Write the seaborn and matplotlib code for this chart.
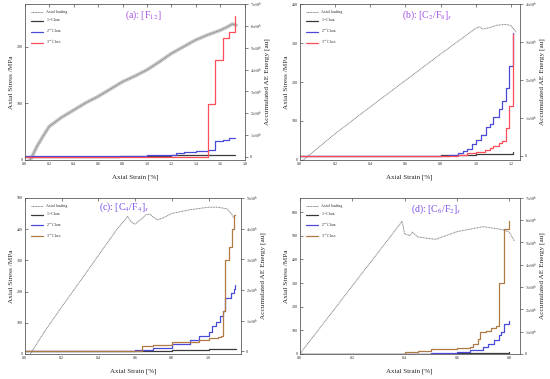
import numpy as np
import pandas as pd
import seaborn as sns
import matplotlib.pyplot as plt
from matplotlib.ticker import FuncFormatter

# ---- (a) [F12]
a_sx = [0.03, 0.05, 0.08, 0.1, 0.15, 0.2, 0.3, 0.4, 0.5, 0.6, 0.7, 0.8, 0.9, 1.0, 1.1, 1.2, 1.3, 1.4, 1.5, 1.6, 1.65, 1.7, 1.73]
a_sy = [-3, 2, 15, 24, 42, 59, 75, 88, 101, 112, 125, 138, 148, 159, 173, 188, 200, 212, 221, 229, 234, 240, 238]
a_c1x = [0.0, 0.78, 1.0, 1.2, 1.5, 1.72]
a_c1y = [0.0, 0.04e6, 0.05e6, 0.06e6, 0.07e6, 0.08e6]
a_c2x = [0.0, 0.78, 1.0, 1.24, 1.3, 1.4, 1.5, 1.56, 1.62, 1.67, 1.72]
a_c2y = [0.05e6, 0.05e6, 0.08e6, 0.15e6, 0.2e6, 0.25e6, 0.3e6, 0.7e6, 0.78e6, 0.85e6, 0.85e6]
a_c3x = [0.0, 1.5, 1.56, 1.62, 1.67, 1.72, 1.72]
a_c3y = [0.0, 2.4e6, 4.46e6, 5.47e6, 5.73e6, 6.45e6, 6.45e6]

# ---- (b) [C2/F8]s
b_sx = [0.0, 0.02, 0.2, 0.4, 0.6, 0.8, 0.9, 1.0, 1.02, 1.04, 1.08, 1.12, 1.17, 1.2, 1.23]
b_sy = [-5, 0, 67, 136, 204, 272, 305, 338, 342, 336, 340, 346, 348, 345, 328]
b_c1x = [0.0, 0.8, 1.0, 1.21]
b_c1y = [0.0, 0.01e6, 0.05e6, 0.1e6]
b_c2x = [0.0, 0.8, 0.85, 0.9, 0.93, 0.95, 0.98, 1.0, 1.03, 1.06, 1.08, 1.1, 1.13, 1.15, 1.17, 1.19, 1.21]
b_c2y = [0.0, 0.0, 0.03e6, 0.06e6, 0.12e6, 0.19e6, 0.3e6, 0.41e6, 0.54e6, 0.76e6, 0.84e6, 1.02e6, 1.23e6, 1.45e6, 1.8e6, 2.37e6, 3.23e6]
b_c3x = [0.0, 0.9, 0.95, 1.0, 1.05, 1.08, 1.1, 1.13, 1.15, 1.17, 1.19, 1.21]
b_c3y = [0.0, 0.03e6, 0.07e6, 0.1e6, 0.15e6, 0.2e6, 0.26e6, 0.35e6, 0.4e6, 0.73e6, 1.3e6, 3.2e6]

# ---- (c) [C4/F4]s
c_sx = [0.03, 0.1, 0.2, 0.3, 0.4, 0.5, 0.56, 0.58, 0.6, 0.63, 0.66, 0.68, 0.7, 0.72, 0.75, 0.8, 0.9, 1.0, 1.05, 1.1, 1.12, 1.14]
c_sy = [0, 65, 150, 232, 315, 398, 440, 422, 416, 430, 446, 448, 438, 430, 435, 450, 462, 470, 470, 465, 452, 435]
c_c1x = [0.0, 0.5, 0.8, 1.0, 1.15]
c_c1y = [0.0, 0.0, 0.03e6, 0.06e6, 0.08e6]
c_c2x = [0.0, 0.52, 0.6, 0.7, 0.8, 0.9, 0.95, 1.0, 1.02, 1.04, 1.06, 1.08, 1.09, 1.12, 1.14, 1.145]
c_c2y = [0.0, 0.0, 0.05e6, 0.12e6, 0.25e6, 0.35e6, 0.5e6, 0.62e6, 0.82e6, 0.95e6, 1.15e6, 1.3e6, 1.75e6, 1.9e6, 2.03e6, 2.16e6]
c_c3x = [0.0, 0.64, 0.7, 0.8, 0.9, 0.95, 1.0, 1.05, 1.07, 1.08, 1.09, 1.11, 1.13, 1.14, 1.145]
c_c3y = [0.0, 0.16e6, 0.2e6, 0.29e6, 0.3e6, 0.35e6, 0.42e6, 0.45e6, 0.5e6, 1.3e6, 2.98e6, 3.4e6, 3.97e6, 4.45e6, 4.45e6]

# ---- (d) [C6/F2]s
d_sx = [0.0, 0.1, 0.2, 0.3, 0.39, 0.395, 0.4, 0.42, 0.43, 0.45, 0.5, 0.52, 0.6, 0.7, 0.75, 0.78, 0.8, 0.82]
d_sy = [0, 143, 287, 430, 560, 540, 508, 500, 515, 495, 487, 485, 517, 538, 530, 524, 515, 477]
d_c1x = [0.0, 0.38, 0.6, 0.8]
d_c1y = [0.0, 0.0, 0.05e6, 0.1e6]
d_c2x = [0.0, 0.45, 0.5, 0.6, 0.65, 0.7, 0.72, 0.74, 0.76, 0.77, 0.78, 0.8]
d_c2y = [0.0, 0.0, 0.05e6, 0.1e6, 0.2e6, 0.3e6, 0.45e6, 0.63e6, 0.85e6, 1.0e6, 1.36e6, 1.5e6]
d_c3x = [0.0, 0.39, 0.4, 0.45, 0.5, 0.6, 0.65, 0.66, 0.68, 0.69, 0.71, 0.73, 0.75, 0.76, 0.78, 0.8]
d_c3y = [0.0, 0.0, 0.08e6, 0.15e6, 0.21e6, 0.28e6, 0.3e6, 0.46e6, 0.65e6, 0.99e6, 1.05e6, 1.17e6, 1.25e6, 3.16e6, 5.6e6, 5.98e6]

sns.set_style('white')
plt.rcParams['font.family'] = ['Liberation Serif', 'DejaVu Serif']
plt.rcParams['mathtext.fontset'] = 'stix'

fig = plt.figure(figsize=(5.5, 3.79), dpi=100)

panels = [
    dict(pos=[0.045, 0.578, 0.4, 0.411], title=r'(a): [F$_{12}$]', tcol='#a64fe6', tx=0.54, ty=0.93,
         s=(a_sx, a_sy), c1=(a_c1x, a_c1y), c2=(a_c2x, a_c2y), c3=(a_c3x, a_c3y), c3col='#ff4d5a',
         xlim=(0, 1.8), ylim=(0, 275), yt=[0, 100, 200], r=(-0.15e6, 7e6), rt=range(8), noisy=True),
    dict(pos=[0.545, 0.578, 0.4, 0.411], title=r'(b): [C$_2$/F$_8$]$_s$', tcol='#a64fe6', tx=0.58, ty=0.93,
         s=(b_sx, b_sy), c1=(b_c1x, b_c1y), c2=(b_c2x, b_c2y), c3=(b_c3x, b_c3y), c3col='#ff4d5a',
         xlim=(0, 1.25), ylim=(0, 400), yt=[0, 100, 200, 300, 400], r=(-0.11e6, 4e6), rt=range(5), noisy=False),
    dict(pos=[0.045, 0.066, 0.393, 0.412], title=r'(c): [C$_4$/F$_4$]$_s$', tcol='#7a4de6', tx=0.46, ty=0.94,
         s=(c_sx, c_sy), c1=(c_c1x, c_c1y), c2=(c_c2x, c_c2y), c3=(c_c3x, c_c3y), c3col='#b07a45',
         xlim=(0, 1.176), ylim=(0, 500), yt=[0, 100, 200, 300, 400, 500], r=(-0.09e6, 5e6), rt=range(6), noisy=False),
    dict(pos=[0.545, 0.066, 0.4, 0.412], title=r'(d): [C$_6$/F$_2$]$_s$', tcol='#7a4de6', tx=0.62, ty=0.93,
         s=(d_sx, d_sy), c1=(d_c1x, d_c1y), c2=(d_c2x, d_c2y), c3=(d_c3x, d_c3y), c3col='#b07a45',
         xlim=(0, 0.84), ylim=(0, 660), yt=[0, 100, 200, 300, 400, 500, 600], r=(0, 7e6), rt=range(8), noisy=False),
]


def sci(v, pos):
    n = int(round(v / 1e6))
    return '0' if n == 0 else r'$%d{\times}10^6$' % n


for p in panels:
    ax = fig.add_axes(p['pos'])
    ax2 = ax.twinx()
    sx, sy = p['s']
    if p['noisy']:
        sns.lineplot(x=sx, y=sy, ax=ax, color='#c8c8c8', lw=2.6, label='_nolegend_')
    sns.lineplot(x=sx, y=sy, ax=ax, color='#808080', lw=0.7, ls=(0, (1, 0.6)), label='Axial loading')
    for key, col, lab in [('c1', '#3a3a3a', r'1$^{st}$ Class'), ('c2', '#4a4ad8', r'2$^{nd}$ Class'),
                          ('c3', p['c3col'], r'3$^{rd}$ Class')]:
        cx, cy = p[key]
        sns.lineplot(x=cx, y=cy, ax=ax2, color=col, lw=0.9, drawstyle='steps-post', label=lab)
    ax.set_xlim(*p['xlim'])
    ax.set_ylim(*p['ylim'])
    ax.set_yticks(p['yt'])
    ax2.set_ylim(*p['r'])
    ax2.set_yticks([k * 1e6 for k in p['rt']])
    ax2.yaxis.set_major_formatter(FuncFormatter(sci))
    xt = np.arange(0, p['xlim'][1] + 0.001, 0.2)
    ax.set_xticks(xt)
    ax.set_xticklabels(['%.1f' % t for t in xt])
    ax.tick_params(axis='both', labelsize=3, direction='in', length=2, width=0.4, pad=1.5, top=True)
    ax2.tick_params(axis='y', labelsize=3, direction='out', length=2, width=0.4, pad=1.5)
    ax.set_xlabel('Axial Strain [%]', fontsize=5, labelpad=6)
    ax.set_ylabel('Axial Stress /MPa', fontsize=5.2, labelpad=2)
    ax2.set_ylabel('Accumulated AE Energy [au]', fontsize=5.2, labelpad=2)
    for sp in list(ax.spines.values()) + list(ax2.spines.values()):
        sp.set_linewidth(0.4)
        sp.set_color('#555555')
    # merged legend
    h1, l1 = ax.get_legend_handles_labels()
    h2, l2 = ax2.get_legend_handles_labels()
    if ax.get_legend():
        ax.get_legend().remove()
    ax2.legend(h1 + h2, l1 + l2, loc='upper left', fontsize=2.8, frameon=False,
               handlelength=3, labelspacing=0.6, borderaxespad=1.2)
    ax.text(p['tx'], p['ty'], p['title'], transform=ax.transAxes, color=p['tcol'],
            fontsize=7, ha='center', va='center')

fig.savefig('out.png', dpi=100)
